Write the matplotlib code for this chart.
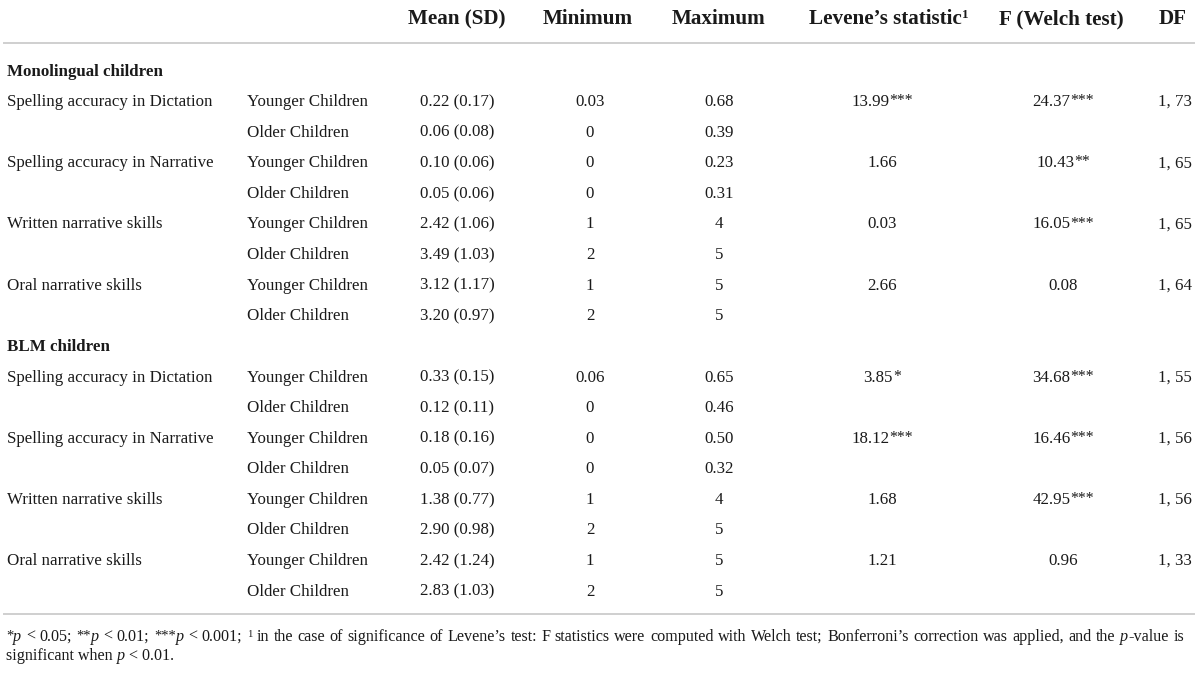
import matplotlib
matplotlib.use("Agg")
from matplotlib import pyplot as plt

measures = ["Spelling accuracy in Dictation", "Spelling accuracy in Narrative",
            "Written narrative skills", "Oral narrative skills"]
groups = ["Younger Children", "Older Children"]
headers = ["Mean (SD)", "Minimum", "Maximum", "Levene\u2019s statistic", "F (Welch test)", "DF"]

mono_mean = [0.22, 0.06, 0.10, 0.05, 2.42, 3.49, 3.12, 3.20]
mono_sd = [0.17, 0.08, 0.06, 0.06, 1.06, 1.03, 1.17, 0.97]
mono_min = ["0.03", "0", "0", "0", "1", "2", "1", "2"]
mono_max = ["0.68", "0.39", "0.23", "0.31", "4", "5", "5", "5"]
mono_lev = ["13.99", "1.66", "0.03", "2.66"]
mono_lev_sig = ["***", "", "", ""]
mono_f = ["24.37", "10.43", "16.05", "0.08"]
mono_f_sig = ["***", "**", "***", ""]
mono_df = ["1, 73", "1, 65", "1, 65", "1, 64"]

blm_mean = [0.33, 0.12, 0.18, 0.05, 1.38, 2.90, 2.42, 2.83]
blm_sd = [0.15, 0.11, 0.16, 0.07, 0.77, 0.98, 1.24, 1.03]
blm_min = ["0.06", "0", "0", "0", "1", "2", "1", "2"]
blm_max = ["0.65", "0.46", "0.50", "0.32", "4", "5", "5", "5"]
blm_lev = ["3.85", "18.12", "1.68", "1.21"]
blm_lev_sig = ["*", "***", "", ""]
blm_f = ["34.68", "16.46", "42.95", "0.96"]
blm_f_sig = ["***", "***", "***", ""]
blm_df = ["1, 55", "1, 56", "1, 56", "1, 33"]

W, H = 1200, 674
FONT = "Liberation Serif"
INK = "#1a1a1a"
BODY = 12.2
HEAD = 15.2
NOTE = 11.6

fig = plt.figure(figsize=(W / 100, H / 100), dpi=100)
fig.patch.set_facecolor("white")
renderer = fig.canvas.get_renderer()


def style(size, weight="normal", italic=False):
    return dict(family=FONT, size=size, weight=weight,
                style="italic" if italic else "normal", color=INK)


def width(s, kw):
    t = fig.text(0, 0, s + "|", **kw)
    w1 = t.get_window_extent(renderer).width
    t.remove()
    t = fig.text(0, 0, "|", **kw)
    w2 = t.get_window_extent(renderer).width
    t.remove()
    return w1 - w2


def runs(x, y, parts, ha="left", justify=None):
    # parts: (text, style, raise in px); justify = right edge to stretch spaces to
    tokens = []
    for s, kw, dy in parts:
        if justify is None:
            tokens.append((s, kw, dy, False))
            continue
        for j, word in enumerate(s.split(" ")):
            if j > 0:
                tokens.append((" ", kw, dy, True))
            if word:
                tokens.append((word, kw, dy, False))
    ws = [width(s, kw) for s, kw, _, _ in tokens]
    total = sum(ws)
    extra = 0
    if justify is not None:
        n = sum(1 for t in tokens if t[3])
        extra = (justify - x - total) / max(n, 1)
    if ha == "center":
        x -= total / 2
    for (s, kw, dy, gap), w in zip(tokens, ws):
        if not gap:
            fig.text(x / W, 1 - (y - dy) / H, s, ha="left", va="baseline", **kw)
        x += w + (extra if gap else 0)


def value(x, y, s, sig=""):
    parts = [(s, style(BODY), 0)]
    if sig:
        parts.append((sig, style(BODY * 0.92), 1))
    runs(x, y, parts, ha="center")


def hline(y):
    fig.add_artist(plt.Line2D([4 / W, 1194 / W], [1 - y / H, 1 - y / H],
                              color="#cfcfcf", lw=1.4))


# header
head_x = [457, 588, 719, 889, 1061, 1173]
col_x = [457, 590, 719, 882, 1063, 1175]
for i, h in enumerate(headers):
    parts = [(h, style(HEAD, "bold"), 0)]
    if i == 3:
        parts.append(("1", style(HEAD * 0.62, "bold"), 6))
    runs(head_x[i], 24, parts, ha="center")
hline(43)

step = 30.6
base = 75.5
blocks = [
    ("Monolingual children", mono_mean, mono_sd, mono_min, mono_max,
     mono_lev, mono_lev_sig, mono_f, mono_f_sig, mono_df),
    ("BLM children", blm_mean, blm_sd, blm_min, blm_max,
     blm_lev, blm_lev_sig, blm_f, blm_f_sig, blm_df),
]
row = 0
for title, mean, sd, mn, mx, lev, lev_sig, f, f_sig, df in blocks:
    y = base + step * row
    fig.text(7 / W, 1 - y / H, title, ha="left", va="baseline", **style(BODY, "bold"))
    row += 1
    for k in range(len(mean)):
        y = base + step * row
        if k % 2 == 0:
            fig.text(7 / W, 1 - y / H, measures[k // 2], ha="left", va="baseline", **style(BODY))
        fig.text(247 / W, 1 - y / H, groups[k % 2], ha="left", va="baseline", **style(BODY))
        value(col_x[0], y, "%.2f (%.2f)" % (mean[k], sd[k]))
        value(col_x[1], y, mn[k])
        value(col_x[2], y, mx[k])
        if k % 2 == 0:
            value(col_x[3], y, lev[k // 2], lev_sig[k // 2])
            value(col_x[4], y, f[k // 2], f_sig[k // 2])
            value(col_x[5], y, df[k // 2])
        row += 1

hline(614)

# footnote
rm = style(NOTE)
it = style(NOTE, italic=True)
ast = style(NOTE * 0.9)
sup = style(NOTE * 0.65)
runs(6, 641, [
    ("*", ast, 1), ("p", it, 0), (" < 0.05; ", rm, 0),
    ("**", ast, 1), ("p", it, 0), (" < 0.01; ", rm, 0),
    ("***", ast, 1), ("p", it, 0), (" < 0.001; ", rm, 0),
    ("1", sup, 4),
    (" in the case of significance of Levene\u2019s test: F statistics were computed with Welch test; "
     "Bonferroni\u2019s correction was applied, and the ", rm, 0),
    ("p", it, 0), ("-value is", rm, 0),
], justify=1184)
runs(6, 660, [("significant when ", rm, 0), ("p", it, 0), (" < 0.01.", rm, 0)])

fig.savefig("out.png", dpi=100, facecolor="white")
